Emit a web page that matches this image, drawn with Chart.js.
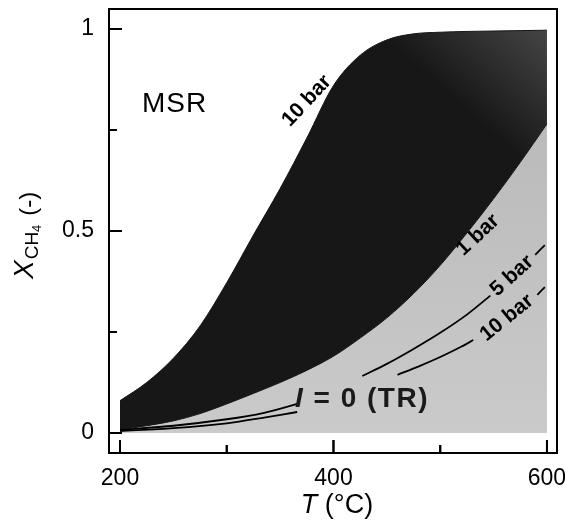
<!DOCTYPE html>
<html>
<head>
<meta charset="utf-8">
<script src="https://cdn.jsdelivr.net/npm/chart.js@4.4.1/dist/chart.umd.min.js"></script>
<style>
  html, body { margin: 0; padding: 0; background: #fff; }
  canvas { display: block; }
</style>
</head>
<body>
<canvas id="msrChart" width="565" height="527"></canvas>
<script>
// MSR: methane conversion vs temperature
const temps = [200, 225, 250, 275, 300, 325, 350, 375, 400, 425, 450, 475, 500, 525, 550, 575, 600];
const conv10bar = [0.08, 0.125, 0.185, 0.265, 0.372, 0.49, 0.605, 0.73, 0.86, 0.935, 0.973, 0.988, 0.992, 0.994, 0.995, 0.996, 0.997];
const conv1bar = [0.008, 0.018, 0.03, 0.048, 0.072, 0.098, 0.125, 0.155, 0.19, 0.235, 0.285, 0.345, 0.415, 0.495, 0.58, 0.67, 0.765];

// TR curves (null = hidden behind a label)
const tr5T = [200, 250, 300, 335, 366, 396, 427, 450, 475, 500, 525, 547, 568, 589, 598];
const tr5X = [0.008, 0.018, 0.034, 0.05, 0.072, null, 0.141, 0.171, 0.208, 0.248, 0.293, 0.34, null, 0.441, 0.465];
const tr10T = [200, 250, 300, 335, 366, 410, 460, 480, 500, 520, 531, 560, 591, 598];
const tr10X = [0.005, 0.012, 0.024, 0.038, 0.052, null, 0.144, 0.165, 0.188, 0.214, 0.23, null, 0.342, 0.361];

const xTicks = [200, 300, 400, 500, 600];
const xTickLabels = ['200', '', '400', '', '600'];
const yTicks = [0, 0.25, 0.5, 0.75, 1];
const yTickLabels = ['0', '', '0.5', '', '1'];

const FONT = '"Liberation Sans", Arial, sans-serif';

const plotLabels = [
  { parts: [['MSR', '28px ' + FONT]], t: 220.6, x: 0.795, angle: 0, align: 'left', spacing: 1 },
  { parts: [['10 bar', 'bold 21px ' + FONT]], t: 375, x: 0.822, angle: -47 },
  { parts: [['1 bar', 'bold 21px ' + FONT]], t: 535.4, x: 0.49, angle: -43 },
  { parts: [['5 bar', 'bold 21px ' + FONT]], t: 567.2, x: 0.389, angle: -42 },
  { parts: [['10 bar', 'bold 21px ' + FONT]], t: 562.5, x: 0.285, angle: -39 },
  { parts: [['I', 'italic bold 28px ' + FONT], [' = 0 (TR)', 'bold 28px ' + FONT]], t: 363.9, x: 0.064, angle: 0, align: 'left', color: '#1a1a1a', spacing: 1.5 }
];

function toXY(ts, xs) {
  return ts.map((t, i) => ({ x: t, y: xs[i] }));
}

// draws text pieces char by char, with optional extra spacing
function drawParts(ctx, parts, align, spacing) {
  const sp = spacing || 0;
  let total = 0;
  parts.forEach(p => {
    ctx.font = p[1];
    for (const ch of p[0]) total += ctx.measureText(ch).width + sp;
  });
  let cx = align === 'left' ? 0 : -total / 2;
  parts.forEach(p => {
    ctx.font = p[1];
    for (const ch of p[0]) {
      ctx.fillText(ch, cx, 0);
      cx += ctx.measureText(ch).width + sp;
    }
  });
}

function darkFill(context) {
  const area = context.chart.chartArea;
  if (!area) return '#171717';
  const g = context.chart.ctx.createLinearGradient(area.right - 80, area.top + 110, area.right, area.top + 20);
  g.addColorStop(0, '#171717');
  g.addColorStop(1, '#484848');
  return g;
}

function grayFill(context) {
  const area = context.chart.chartArea;
  if (!area) return '#c4c4c4';
  const g = context.chart.ctx.createLinearGradient(0, area.top + 110, 0, area.bottom);
  g.addColorStop(0, '#bababa');
  g.addColorStop(1, '#cbcbcb');
  return g;
}

function drawFrame(chart) {
  const { ctx, chartArea: a, scales: { x, y } } = chart;
  ctx.save();
  ctx.fillStyle = '#000';
  ctx.fillRect(a.left - 1, a.top - 1, a.right - a.left + 2, 2);
  ctx.fillRect(a.left - 1, a.bottom - 1, a.right - a.left + 2, 2);
  ctx.fillRect(a.left - 1, a.top - 1, 2, a.bottom - a.top + 2);
  ctx.fillRect(a.right - 1, a.top - 1, 2, a.bottom - a.top + 2);
  ctx.strokeStyle = '#000';
  ctx.lineWidth = 2;
  xTicks.forEach((v, i) => {
    const px = x.getPixelForValue(v);
    const len = xTickLabels[i] ? 13 : 8;
    ctx.beginPath();
    ctx.moveTo(px, a.bottom);
    ctx.lineTo(px, a.bottom - len);
    ctx.stroke();
  });
  yTicks.forEach((v, i) => {
    const py = y.getPixelForValue(v);
    const len = yTickLabels[i] ? 13 : 8;
    ctx.beginPath();
    ctx.moveTo(a.left, py);
    ctx.lineTo(a.left + len, py);
    ctx.stroke();
  });
  ctx.restore();
}

const labelsPlugin = {
  id: 'plotLabels',
  afterDatasetsDraw(chart) {
    const { ctx, scales: { x, y } } = chart;
    plotLabels.forEach(l => {
      ctx.save();
      ctx.translate(x.getPixelForValue(l.t), y.getPixelForValue(l.x));
      ctx.rotate(l.angle * Math.PI / 180);
      ctx.fillStyle = l.color || '#000';
      ctx.textBaseline = l.align === 'left' ? 'alphabetic' : 'middle';
      drawParts(ctx, l.parts, l.align, l.spacing);
      ctx.restore();
    });
  }
};

const framePlugin = {
  id: 'frame',
  beforeDatasetsDraw(chart) {
    drawFrame(chart);
  },
  afterDraw(chart) {
    const { ctx, chartArea: a } = chart;

    // axis titles
    ctx.save();
    ctx.fillStyle = '#000';
    ctx.textBaseline = 'alphabetic';
    ctx.save();
    ctx.translate((a.left + a.right) / 2 + 4, 513);
    drawParts(ctx, [['T', 'italic 27px ' + FONT], [' (\u00B0C)', '27px ' + FONT]], 'center');
    ctx.restore();

    ctx.save();
    ctx.translate(33, 279);
    ctx.rotate(-Math.PI / 2);
    let cx = 0;
    ctx.font = 'italic 28px ' + FONT;
    ctx.fillText('X', cx, 0);
    cx += ctx.measureText('X').width + 1;
    ctx.font = '19px ' + FONT;
    ctx.fillText('CH', cx, 5);
    cx += ctx.measureText('CH').width;
    ctx.font = '13px ' + FONT;
    ctx.fillText('4', cx, 8);
    cx += ctx.measureText('4').width + 9;
    ctx.font = '24px ' + FONT;
    ctx.fillText('(-)', cx, 3);
    ctx.restore();
    ctx.restore();

    drawFrame(chart);
  }
};

function noPadding(scale) {
  scale.paddingTop = 0;
  scale.paddingBottom = 0;
  scale.paddingLeft = 0;
  scale.paddingRight = 0;
}

function renderChart() {
  const ctx = document.getElementById('msrChart').getContext('2d');

  new Chart(ctx, {
    type: 'line',
    data: {
      datasets: [
        {
          label: 'TR 5 bar',
          data: toXY(tr5T, tr5X),
          borderColor: '#000',
          borderWidth: 1.8,
          pointRadius: 0,
          tension: 0.3,
          spanGaps: false,
          fill: false
        },
        {
          label: 'TR 10 bar',
          data: toXY(tr10T, tr10X),
          borderColor: '#000',
          borderWidth: 1.8,
          pointRadius: 0,
          tension: 0.3,
          spanGaps: false,
          fill: false
        },
        {
          label: '10 bar',
          data: toXY(temps, conv10bar),
          borderColor: '#151515',
          borderWidth: 1,
          backgroundColor: darkFill,
          pointRadius: 0,
          cubicInterpolationMode: 'monotone',
          fill: '+1'
        },
        {
          label: '1 bar',
          data: toXY(temps, conv1bar),
          borderColor: '#151515',
          borderWidth: 1,
          backgroundColor: grayFill,
          pointRadius: 0,
          cubicInterpolationMode: 'monotone',
          fill: 'origin'
        }
      ]
    },
    options: {
      responsive: false,
      animation: false,
      layout: {
        padding: { left: 0, top: 9, right: 8, bottom: 0 }
      },
      plugins: {
        legend: { display: false },
        tooltip: { enabled: false }
      },
      scales: {
        x: {
          type: 'linear',
          min: 189.7,
          max: 609.4,
          grid: { display: false, drawTicks: false },
          border: { display: false },
          afterBuildTicks: scale => { scale.ticks = xTicks.map(v => ({ value: v })); },
          afterFit: scale => { scale.height = 74; noPadding(scale); },
          ticks: {
            autoSkip: false,
            maxRotation: 0,
            padding: 12,
            color: '#000',
            font: { family: FONT, size: 23 },
            callback: (v, i) => xTickLabels[i]
          }
        },
        y: {
          type: 'linear',
          min: -0.0495,
          max: 1.0495,
          grid: { display: false, drawTicks: false },
          border: { display: false },
          afterBuildTicks: scale => { scale.ticks = yTicks.map(v => ({ value: v })); },
          afterFit: scale => { scale.width = 109; noPadding(scale); },
          ticks: {
            autoSkip: false,
            padding: 15,
            color: '#000',
            font: { family: FONT, size: 23 },
            callback: (v, i) => yTickLabels[i]
          }
        }
      }
    },
    plugins: [labelsPlugin, framePlugin]
  });
}

// Initialize
document.addEventListener('DOMContentLoaded', renderChart);
</script>
</body>
</html>
